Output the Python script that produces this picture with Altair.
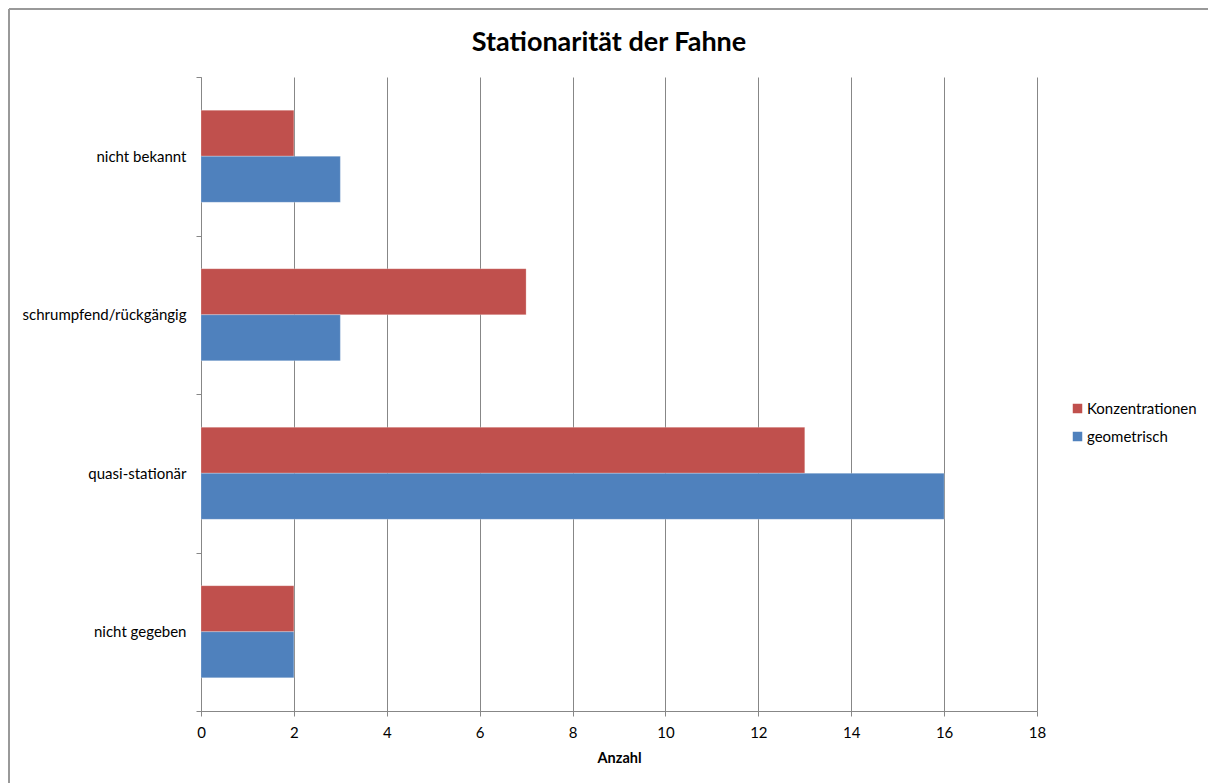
import altair as alt
import pandas as pd

# Categories (top to bottom) and the two series
categories = ["nicht bekannt", "schrumpfend/rückgängig", "quasi-stationär", "nicht gegeben"]
series = ["Konzentrationen", "geometrisch"]
konzentrationen = [2, 7, 13, 2]
geometrisch = [3, 3, 16, 2]
x_ticks = [0, 2, 4, 6, 8, 10, 12, 14, 16, 18]
colors = ["#C0504D", "#4F81BD"]

rows = []
for cat, k, g in zip(categories, konzentrationen, geometrisch):
    rows.append({"Kategorie": cat, "Reihe": series[0], "Anzahl": k})
    rows.append({"Kategorie": cat, "Reihe": series[1], "Anzahl": g})
df = pd.DataFrame(rows)

FONT = "Lato"
GRID = "#878787"

bars = alt.Chart(df).mark_bar(stroke="#ffffff", strokeOpacity=0.25, strokeWidth=1).encode(
    x=alt.X(
        "Anzahl:Q",
        scale=alt.Scale(domain=[0, 18], nice=False),
        axis=alt.Axis(
            values=x_ticks,
            title="Anzahl",
            titleFont=FONT,
            titleFontSize=14.5,
            titleFontWeight="bold",
            titleColor="#000000",
            titlePadding=11,
            labelFont=FONT,
            labelFontSize=15,
            labelColor="#000000",
            labelPadding=9,
            labelFlush=False,
            tickSize=5,
            tickColor=GRID,
            domainColor=GRID,
            grid=True,
            gridColor=GRID,
            gridWidth=1,
        ),
    ),
    y=alt.Y(
        "Kategorie:N",
        sort=categories,
        scale=alt.Scale(paddingInner=0, paddingOuter=0),
        axis=alt.Axis(
            title=None,
            labelFont=FONT,
            labelFontSize=15,
            labelColor="#000000",
            labelPadding=10,
            tickSize=5,
            tickColor=GRID,
            domainColor=GRID,
            tickBand="extent",
            grid=False,
        ),
    ),
    yOffset=alt.YOffset(
        "Reihe:N",
        sort=series,
        scale=alt.Scale(paddingInner=0, paddingOuter=0.72),
    ),
    color=alt.Color(
        "Reihe:N",
        sort=series,
        scale=alt.Scale(domain=series, range=colors),
        legend=alt.Legend(
            title=None,
            orient="none",
            legendX=869,
            legendY=324,
            symbolType="square",
            symbolSize=90,
            symbolStrokeWidth=0,
            labelFont=FONT,
            labelFontSize=15,
            labelColor="#000000",
            labelOffset=2,
            rowPadding=12,
        ),
    ),
)

# Outer frame of the chart (left and top edges)
frame_left = alt.Chart().mark_rule(color="#999999", strokeWidth=2).encode(
    x=alt.value(-192), y=alt.value(-68), y2=alt.value(720)
)
frame_top = alt.Chart().mark_rule(color="#999999", strokeWidth=2).encode(
    x=alt.value(-192), x2=alt.value(1020), y=alt.value(-68)
)

chart = alt.layer(bars, frame_left, frame_top).properties(
    width=836,
    height=634,
    autosize=alt.AutoSizeParams(type="none"),
    padding={"left": 201, "top": 77, "right": 171, "bottom": 72},
    title=alt.TitleParams(
        "Stationarität der Fahne",
        font=FONT,
        fontSize=27,
        fontWeight="bold",
        color="#000000",
        anchor="middle",
        dx=-10,
        offset=22,
        dy=71,
    ),
).configure_view(stroke=None)

chart.save("out.html", embed_options={"renderer": "svg", "actions": False})
